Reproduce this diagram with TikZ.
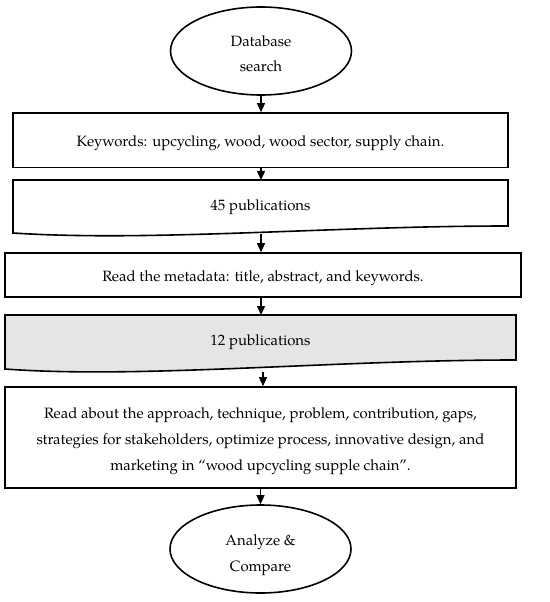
\documentclass[tikz,border=0pt]{standalone}
\usepackage{fontspec}
\setmainfont{TeX Gyre Pagella}
\usetikzlibrary{shapes.geometric,arrows.meta}
\begin{document}
\begin{tikzpicture}[x=1bp,y=-1bp,
  outline/.style={draw=black,line width=1.6bp},
  txt/.style={font=\fontsize{15}{26}\selectfont,align=center,inner sep=0pt,anchor=base},
  boxnode/.style={outline,rectangle,inner sep=0pt,font=\fontsize{15}{26}\selectfont,align=center},
  ovalnode/.style={outline,ellipse,inner sep=0pt,minimum width=181bp,minimum height=88bp,align=center},
  arr/.style={line width=1.3bp,-{Triangle[length=9bp,width=8bp]}}]
\useasboundingbox (0,0) rectangle (550,602);
% start ellipse
\node[ovalnode,font=\fontsize{15}{25}\selectfont,text height=41bp,text depth=0bp] (e1) at (261,51) {Database\\search};
% keywords box
\node[boxnode,minimum width=495bp,minimum height=54.5bp,text height=13.5bp,text depth=0bp] (b1) at (260.5,140.25) {Keywords: upcycling, wood, wood sector, supply chain.};
% 45 publications document shape
\draw[outline,fill=white] (13,180) -- (508,180) -- (508,226) .. controls (330,226) and (150,242) .. (13,233) -- cycle;
\node[txt] (d2) at (260.5,210) {45 publications};
\coordinate (d2b) at (261,233.5);
% metadata box
\node[boxnode,minimum width=516bp,minimum height=44bp,text height=12bp,text depth=0bp] (b3) at (263,275) {Read the metadata: title, abstract, and keywords.};
% 12 publications document shape
\draw[outline,fill=black!10] (5,315) -- (516,315) -- (516,360) .. controls (330,360) and (140,379) .. (5,369) -- cycle;
\node[txt] (d4) at (260.5,345) {12 publications};
\coordinate (d4b) at (263,371.5);
% read about box
\node[boxnode,minimum width=511bp,minimum height=101bp,text height=65bp,text depth=0bp] (b5) at (260.5,437.5) {Read about the approach, technique, problem, contribution, gaps,\\strategies for stakeholders, optimize process, innovative design, and\\marketing in “wood upcycling supple chain”.};
% end ellipse
\node[ovalnode,font=\fontsize{15}{26}\selectfont,text height=44bp,text depth=0bp] (e2) at (260.5,549) {Analyze \&\\Compare};
% connectors
\draw[arr] (e1) -- (e1 |- b1.north);
\draw[arr] (b1.south -| d2b) -- (d2b |- 0,180);
\draw[arr] (d2b) -- (d2b |- b3.north);
\draw[arr] (b3.south -| d2b) -- (d2b |- 0,315);
\draw[arr] (d4b) -- (d4b |- b5.north);
\draw[arr] (b5.south -| e2) -- (e2.north);
\end{tikzpicture}
\end{document}
